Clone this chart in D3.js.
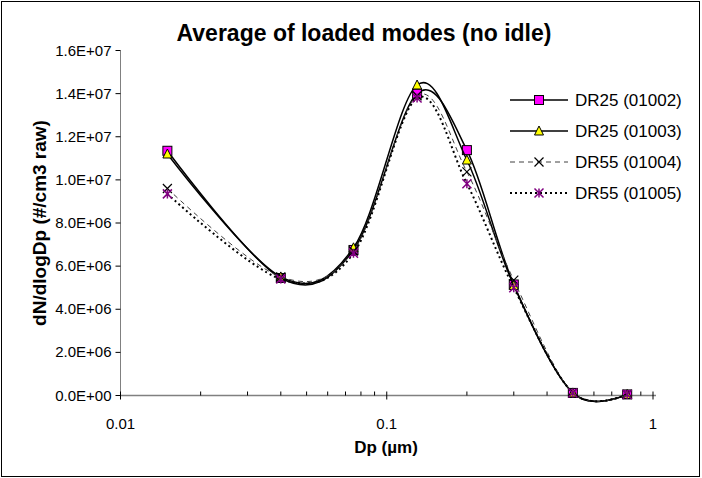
<!DOCTYPE html>
<html><head><meta charset="utf-8">
<script src="https://cdn.jsdelivr.net/npm/d3@7"></script>
<style>body{margin:0;background:#fff}svg{display:block}text{font-family:"Liberation Sans",Arial,sans-serif}</style>
</head><body><svg id="c" width="702" height="478"></svg>
<script>
const dp = [0.015, 0.04, 0.075, 0.13, 0.2, 0.3, 0.5, 0.8];
const s01002 = [11.35e6, 5.45e6, 6.75e6, 14.0e6, 11.38e6, 5.15e6, 0.12e6, 0.05e6];
const s01003 = [11.2e6, 5.5e6, 6.85e6, 14.4e6, 10.92e6, 5.1e6, 0.12e6, 0.05e6];
const s01004 = [9.6e6, 5.5e6, 6.7e6, 13.9e6, 10.37e6, 5.35e6, 0.12e6, 0.05e6];
const s01005 = [9.35e6, 5.4e6, 6.6e6, 13.8e6, 9.82e6, 5.0e6, 0.12e6, 0.05e6];
const seriesNames = ["DR25 (01002)", "DR25 (01003)", "DR55 (01004)", "DR55 (01005)"];
const yTicks = [0, 2e6, 4e6, 6e6, 8e6, 10e6, 12e6, 14e6, 16e6];
const yTickLabels = ["0.0E+00","2.0E+06","4.0E+06","6.0E+06","8.0E+06","1.0E+07","1.2E+07","1.4E+07","1.6E+07"];
const xTicks = [0.01, 0.1, 1];
const xTickLabels = ["0.01", "0.1", "1"];
const title = "Average of loaded modes (no idle)";
const xTitle = "Dp (µm)";
const yTitle = "dN/dlogDp (#/cm3 raw)";

const svg = d3.select("#c");
svg.append("rect").attr("x",1.5).attr("y",1.5).attr("width",698).attr("height",475)
  .attr("fill","#fff").attr("stroke","#000").attr("stroke-width",1);

const L=120.5, R=653, T=50.5, B=395.5;
const x = d3.scaleLog().domain([0.01,1]).range([L,R]);
const y = d3.scaleLinear().domain([0,16e6]).range([B,T]);

// axes
const g = svg.append("g");
g.append("line").attr("x1",L).attr("x2",L).attr("y1",T).attr("y2",B).attr("stroke","#808080").attr("stroke-width",1);
g.append("line").attr("x1",L).attr("x2",R+3).attr("y1",B).attr("y2",B).attr("stroke","#808080").attr("stroke-width",1.5);
yTicks.forEach((v,i)=>{
  g.append("line").attr("x1",L-5).attr("x2",L).attr("y1",y(v)).attr("y2",y(v)).attr("stroke","#000");
  g.append("text").attr("x",L-9).attr("y",y(v)+5).attr("text-anchor","end").attr("font-size",15).text(yTickLabels[i]);
});
const minor = [];
for (let d of [0.01,0.1]) for (let k=2;k<=9;k++) minor.push(d*k);
minor.forEach(v=>{
  g.append("line").attr("x1",x(v)).attr("x2",x(v)).attr("y1",B-4).attr("y2",B).attr("stroke","#000");
});
xTicks.forEach((v,i)=>{
  g.append("line").attr("x1",x(v)).attr("x2",x(v)).attr("y1",B-4).attr("y2",B+4).attr("stroke","#000");
  g.append("text").attr("x",x(v)).attr("y",B+33).attr("text-anchor","middle").attr("font-size",15).text(xTickLabels[i]);
});

svg.append("text").attr("x",364).attr("y",41).attr("text-anchor","middle").attr("font-size",23).attr("font-weight","bold").text(title);
svg.append("text").attr("x",386).attr("y",453).attr("text-anchor","middle").attr("font-size",17).attr("font-weight","bold").text(xTitle);
svg.append("text").attr("transform","translate(46,223) rotate(-90)").attr("text-anchor","middle").attr("font-size",19).attr("font-weight","bold").text(yTitle);

const data = [s01002, s01003, s01004, s01005];
const styles = [
  {dash:null, w:1.5, color:"#000", marker:"square"},
  {dash:null, w:1.5, color:"#000", marker:"triangle"},
  {dash:"5,4", w:1, color:"#404040", marker:"x"},
  {dash:"2,3", w:2, color:"#000", marker:"star"}
];
const line = d3.line().x(d=>x(d[0])).y(d=>y(d[1])).curve(d3.curveCardinal.tension(0));

function marker(sel, type, cx, cy){
  const s=4.5;
  if(type==="square") sel.append("rect").attr("x",cx-s).attr("y",cy-s).attr("width",2*s).attr("height",2*s).attr("fill","#ff00ff").attr("stroke","#000").attr("stroke-width",1);
  else if(type==="triangle") sel.append("path").attr("d",`M${cx},${cy-s-0.5}L${cx+s},${cy+s-0.5}L${cx-s},${cy+s-0.5}Z`).attr("fill","#ffff00").attr("stroke","#000").attr("stroke-width",1);
  else if(type==="x") sel.append("path").attr("d",`M${cx-s},${cy-s}L${cx+s},${cy+s}M${cx-s},${cy+s}L${cx+s},${cy-s}`).attr("stroke","#000").attr("stroke-width",1.2).attr("fill","none");
  else sel.append("path").attr("d",`M${cx-s},${cy-s}L${cx+s},${cy+s}M${cx-s},${cy+s}L${cx+s},${cy-s}M${cx},${cy-s}L${cx},${cy+s}`).attr("stroke","#800080").attr("stroke-width",1.5).attr("fill","none");
}

data.forEach((vals,i)=>{
  const pts = dp.map((d,j)=>[d,vals[j]]);
  const st = styles[i];
  svg.append("path").attr("d",line(pts)).attr("fill","none").attr("stroke",st.color).attr("stroke-width",st.w).attr("stroke-dasharray",st.dash);
  const mg = svg.append("g");
  pts.forEach(p=>marker(mg, st.marker, x(p[0]), y(p[1])));
});

// legend
const lg = svg.append("g");
seriesNames.forEach((n,i)=>{
  const ly = 100 + i*31, st = styles[i];
  lg.append("line").attr("x1",510).attr("x2",568).attr("y1",ly).attr("y2",ly).attr("stroke",st.color).attr("stroke-width",st.w).attr("stroke-dasharray",st.dash);
  marker(lg, st.marker, 539, ly);
  lg.append("text").attr("x",575).attr("y",ly+6).attr("font-size",17).text(n);
});
</script></body></html>
